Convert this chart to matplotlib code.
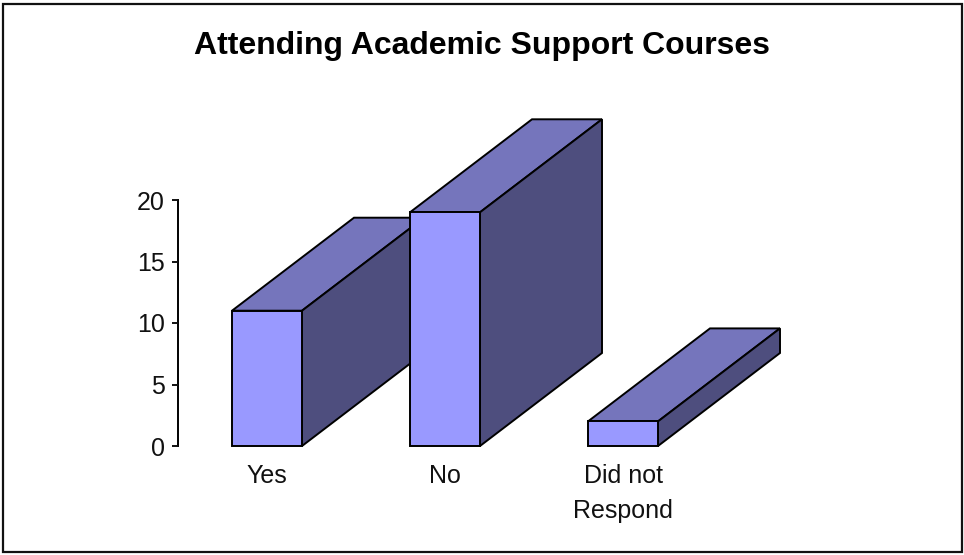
import numpy as np
from matplotlib import pyplot as plt
from matplotlib.patches import Rectangle

categories = ['Yes', 'No', 'Did not\nRespond']
values = [11, 19, 2]
y_ticks = [0, 5, 10, 15, 20]
title = 'Attending Academic Support Courses'

W, H = 964, 555
BAR_WIDTH = 70 / 178
DEPTH_X = 122 / 178  # in category units
DEPTH_Y = 93 / 12.3  # in value units

plt.rcParams['font.family'] = ['Liberation Sans', 'DejaVu Sans']

fig = plt.figure(figsize=(W / 100, H / 100), dpi=100)
fig.patch.set_facecolor('white')

# outer frame of the chart, kept behind the axes
fig.add_artist(Rectangle((3 / W, 3.5 / H), 959 / W, 548 / H, transform=fig.transFigure,
                         facecolor='white', edgecolor='#111111', linewidth=1.6, zorder=-1))

ax = fig.add_axes([178 / W, (H - 446) / H, 534 / W, 246 / H])
ax.patch.set_alpha(0)
ax.set_xlim(-0.5, 2.5)
ax.set_ylim(0, 20)

for i, v in enumerate(values):
    x0 = i - BAR_WIDTH / 2
    x1 = i + BAR_WIDTH / 2
    # top face
    ax.fill([x0, x1, x1 + DEPTH_X, x0 + DEPTH_X], [v, v, v + DEPTH_Y, v + DEPTH_Y],
            facecolor='#7575bc', edgecolor='black', linewidth=1.4, clip_on=False, zorder=2 + i)
    # side face
    ax.fill([x1, x1 + DEPTH_X, x1 + DEPTH_X, x1], [0, DEPTH_Y, v + DEPTH_Y, v],
            facecolor='#4e4e7e', edgecolor='black', linewidth=1.4, clip_on=False, zorder=2 + i)
    # front face
    ax.bar(i, v, width=BAR_WIDTH, color='#9999ff', edgecolor='black', linewidth=1.4,
           clip_on=False, zorder=2 + i)

for side in ['top', 'right', 'bottom']:
    ax.spines[side].set_visible(False)
ax.spines['left'].set_linewidth(1.4)
ax.spines['left'].set_zorder(1)

ax.set_yticks(y_ticks)
ax.tick_params(axis='y', length=4.5, width=1.4, pad=5, labelsize=18, colors='#111111')
ax.set_xticks(np.arange(len(categories)))
ax.set_xticklabels(categories, fontsize=18, color='#111111', linespacing=1.56)
ax.tick_params(axis='x', length=0, pad=13)

fig.text(482.5 / W, 1 - 46 / H, title, ha='center', va='center', fontsize=23,
         fontweight='bold', color='black')

fig.savefig('out.png', dpi=100)
